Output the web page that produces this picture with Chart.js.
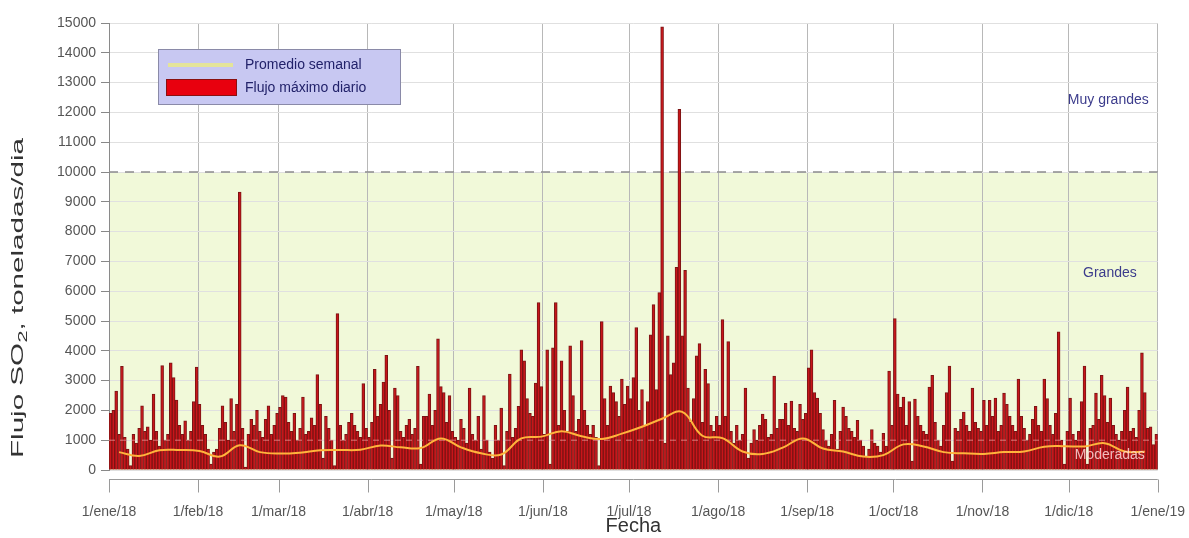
<!DOCTYPE html>
<html>
<head>
<meta charset="utf-8">
<script src="https://cdn.jsdelivr.net/npm/chart.js@4.4.1/dist/chart.umd.min.js"></script>
<style>
  html, body { margin: 0; padding: 0; background: #fff; }
  #wrap { position: relative; width: 1189px; height: 538px; }
</style>
</head>
<body>
<div id="wrap"><canvas id="flujo"></canvas></div>
<script>
// flujo maximo diario de SO2 2018 (t/dia), un arreglo por mes
const ene = [1900, 2000, 2650, 1200, 3480, 1100, 700, 150, 1200, 900, 1400, 2150, 1300, 1450, 1000, 2550, 1300, 800, 3500, 1000, 1200, 3600, 3100, 2350, 1500, 1200, 1650, 1000, 1300, 2300, 3450];
const feb = [2200, 1500, 1200, 700, 200, 600, 700, 1400, 2150, 1600, 1000, 2400, 1300, 2200, 9330, 1400, 100, 1200, 1700, 1500, 2000, 1300, 1100, 1700, 2150, 1200, 1500, 1900];
const mar = [2100, 2500, 2450, 1600, 1300, 1900, 1000, 1400, 2450, 1200, 1300, 1750, 1500, 3200, 2200, 400, 1800, 1400, 1000, 150, 5250, 1500, 1000, 1200, 1600, 1900, 1500, 1300, 1100, 2900, 1400];
const abr = [1100, 1600, 3380, 1800, 2200, 2950, 3850, 2000, 400, 2750, 2500, 1300, 1100, 1500, 1700, 1200, 1400, 3480, 200, 1800, 1800, 2550, 1500, 2000, 4400, 2800, 2600, 1600, 2500, 1300];
const may = [1100, 1000, 1700, 1400, 900, 2750, 1200, 1000, 1800, 700, 2500, 1000, 600, 400, 1500, 1000, 2080, 150, 1300, 3220, 1100, 1400, 2140, 4030, 3660, 2400, 1900, 1800, 2920, 5620, 2800];
const jun = [1200, 4030, 200, 4100, 5620, 1500, 3660, 2000, 1300, 4170, 2500, 1300, 1700, 4340, 2000, 1500, 1200, 1500, 1100, 150, 4980, 2400, 1500, 2820, 2600, 2300, 1800, 3050, 2200, 2820];
const jul = [2400, 3100, 4780, 2000, 2700, 1500, 2300, 4540, 5550, 2700, 5950, 14870, 900, 4500, 3200, 3600, 6800, 12100, 4500, 6700, 2750, 1600, 2400, 3830, 4240, 1600, 3380, 2900, 1500, 1300, 1800];
const ago = [1500, 5050, 1800, 4310, 1300, 900, 1500, 1000, 1200, 2750, 400, 900, 1360, 1000, 1500, 1880, 1700, 1100, 1200, 3150, 1400, 1700, 1700, 2240, 1500, 2310, 1400, 1300, 2200, 1700, 1900];
const sep = [3430, 4030, 2600, 2410, 1900, 1360, 1000, 800, 1200, 2340, 700, 1300, 2110, 1800, 1400, 1300, 1100, 1670, 1000, 800, 450, 700, 1360, 900, 800, 600, 1230, 800, 3320, 1500];
const oct = [5080, 2550, 2100, 2450, 1500, 2300, 300, 2380, 1800, 1500, 1300, 1200, 2780, 3180, 1600, 1000, 800, 1500, 2600, 3490, 300, 1400, 1300, 1700, 1940, 1500, 1300, 2750, 1600, 1400, 1300];
const nov = [2340, 1500, 2340, 1800, 2410, 1300, 1500, 2580, 2200, 1800, 1500, 1300, 3050, 1800, 1400, 1000, 1200, 1700, 2140, 1500, 1300, 3050, 2400, 1500, 1200, 1900, 4640, 1000, 200, 1300];
const dic = [2410, 1200, 1000, 1300, 2300, 3490, 200, 1400, 1500, 2580, 1700, 3180, 2500, 1600, 2410, 1500, 1200, 1000, 1300, 2000, 2780, 1300, 1400, 1100, 2000, 3930, 2600, 1400, 1450, 850, 1200];

// promedio semanal (una semana por valor, desde el 1 de enero)
const semanal = [600, 470, 660, 670, 640, 450, 830, 600, 550, 580, 660, 670, 680, 820, 760, 740, 1060, 760, 560, 520, 1060, 1120, 1300, 1130, 1040, 1220, 1450, 1720, 1950, 1150, 1070, 620, 540, 750, 1060, 720, 620, 450, 500, 860, 790, 600, 560, 540, 600, 620, 780, 800, 790, 900, 620, 610];

const inicioMes = [0, 31, 59, 90, 120, 151, 181, 212, 243, 273, 304, 334, 365];
const etiquetasMes = ['1/ene/18', '1/feb/18', '1/mar/18', '1/abr/18', '1/may/18', '1/jun/18', '1/jul/18',
                      '1/ago/18', '1/sep/18', '1/oct/18', '1/nov/18', '1/dic/18', '1/ene/19'];
const limites = [1000, 10000];
const zonas = ['Moderadas', 'Grandes', 'Muy grandes'];

const diario = [].concat(ene, feb, mar, abr, may, jun, jul, ago, sep, oct, nov, dic);

const FONT = "'Liberation Sans', Arial, sans-serif";

const extras = {
    id: 'extras',
    beforeDraw(chart) {
        const {ctx, chartArea: a, scales: {y}} = chart;
        let top = y.getPixelForValue(limites[1]);
        ctx.save();
        ctx.fillStyle = '#f1f9d9';
        ctx.fillRect(a.left, top, a.right - a.left, y.getPixelForValue(0) - top);
        ctx.restore();
    },
    beforeDatasetsDraw(chart) {
        const {ctx, chartArea: a, scales: {y}} = chart;
        let yy = y.getPixelForValue(limites[1]);
        ctx.save();
        ctx.strokeStyle = '#8c8c8c';
        ctx.lineWidth = 1.5;
        ctx.setLineDash([9, 7]);
        ctx.beginPath();
        ctx.moveTo(a.left, yy);
        ctx.lineTo(a.right, yy);
        ctx.stroke();
        ctx.restore();
    },
    afterDatasetDraw(chart, args) {
        if (args.index !== 1) return;
        const {ctx, chartArea: a, scales: {y}} = chart;
        let yy = y.getPixelForValue(limites[0]);
        ctx.save();
        ctx.strokeStyle = 'rgba(255, 190, 190, 0.6)';
        ctx.lineWidth = 1;
        ctx.setLineDash([6, 5]);
        ctx.beginPath();
        ctx.moveTo(a.left, yy);
        ctx.lineTo(a.right, yy);
        ctx.stroke();
        ctx.restore();
    },
    afterDraw(chart) {
        const {ctx, chartArea: a, scales: {x, y}} = chart;
        ctx.save();

        // nombres de zonas
        ctx.font = '14px ' + FONT;
        ctx.textAlign = 'right';
        ctx.textBaseline = 'middle';
        ctx.fillStyle = '#3c3c8c';
        ctx.fillText(zonas[2], a.right - 9, y.getPixelForValue(12400));
        ctx.fillText(zonas[1], a.right - 21, y.getPixelForValue(6600));
        ctx.fillStyle = 'rgba(255, 215, 215, 0.85)';
        ctx.fillText(zonas[0], a.right - 13, y.getPixelForValue(500));

        // eje x separado del area
        let ax = a.bottom + 9.5;
        ctx.strokeStyle = '#9a9a9a';
        ctx.lineWidth = 1;
        ctx.beginPath();
        ctx.moveTo(x.getPixelForValue(0), ax);
        ctx.lineTo(x.getPixelForValue(365), ax);
        for (let i = 0; i < inicioMes.length; i++) {
            let px = Math.round(x.getPixelForValue(inicioMes[i])) + 0.5;
            ctx.moveTo(px, ax);
            ctx.lineTo(px, ax + 13);
        }
        ctx.stroke();

        // leyenda
        let lx = a.left + 49, ly = a.top + 26;
        ctx.fillStyle = '#c8c8f2';
        ctx.strokeStyle = '#8a8aa8';
        ctx.fillRect(lx, ly, 242, 55);
        ctx.strokeRect(lx + 0.5, ly + 0.5, 242, 55);
        ctx.strokeStyle = '#e4e49a';
        ctx.lineWidth = 4;
        ctx.beginPath();
        ctx.moveTo(lx + 10, ly + 16);
        ctx.lineTo(lx + 75, ly + 16);
        ctx.stroke();
        ctx.fillStyle = '#e8000e';
        ctx.strokeStyle = '#8a1010';
        ctx.lineWidth = 1;
        ctx.fillRect(lx + 8, ly + 30, 71, 17);
        ctx.strokeRect(lx + 8.5, ly + 30.5, 70, 16);
        ctx.font = '14px ' + FONT;
        ctx.textAlign = 'left';
        ctx.fillStyle = '#22226a';
        ctx.fillText('Promedio semanal', lx + 87, ly + 16);
        ctx.fillText('Flujo máximo diario', lx + 87, ly + 39);

        // titulo eje y con subindice
        ctx.translate(19, 298);
        ctx.scale(1, 1.85);
        ctx.rotate(-Math.PI / 2);
        ctx.fillStyle = '#333';
        ctx.textBaseline = 'middle';
        let p1 = 'Flujo SO', p2 = '2', p3 = ', toneladas/dia';
        ctx.font = '16px ' + FONT;
        let w1 = ctx.measureText(p1).width, w3 = ctx.measureText(p3).width;
        ctx.font = '12px ' + FONT;
        let w2 = ctx.measureText(p2).width;
        let sx = -(w1 + w2 + w3) / 2;
        ctx.font = '16px ' + FONT;
        ctx.fillText(p1, sx, 0);
        ctx.fillText(p3, sx + w1 + w2, 0);
        ctx.font = '12px ' + FONT;
        ctx.fillText(p2, sx + w1, 5);

        ctx.restore();
    }
};

new Chart(document.getElementById('flujo'), {
    type: 'bar',
    data: {
        datasets: [{
            type: 'line',
            label: 'Promedio semanal',
            data: semanal.map((v, i) => ({x: i * 7 + 3.5, y: v})),
            borderColor: '#ffb43c',
            borderWidth: 2,
            pointRadius: 0,
            tension: 0.4,
            order: 1
        }, {
            label: 'Flujo máximo diario',
            data: diario.map((v, i) => ({x: i + 0.5, y: v})),
            backgroundColor: '#c8151a',
            borderColor: '#7a1414',
            borderWidth: 1,
            barPercentage: 1,
            categoryPercentage: 1,
            order: 2
        }]
    },
    options: {
        responsive: true,
        maintainAspectRatio: false,
        animation: false,
        layout: {padding: {top: 23, right: 0, left: 0, bottom: 0}},
        plugins: {
            legend: {display: false},
            tooltip: {enabled: false}
        },
        scales: {
            x: {
                type: 'linear',
                offset: false,
                min: 0,
                max: 365,
                afterBuildTicks: (scale) => { scale.ticks = inicioMes.map(v => ({value: v})); },
                afterFit: (scale) => { scale.height = 68; },
                ticks: {
                    autoSkip: false,
                    maxRotation: 0,
                    padding: 4,
                    color: '#555',
                    font: {family: FONT, size: 14},
                    callback: (v) => etiquetasMes[inicioMes.indexOf(v)]
                },
                grid: {color: '#b8b8b8', drawTicks: true, tickLength: 30, tickColor: 'rgba(0,0,0,0)', offset: false},
                border: {display: false},
                title: {
                    display: true,
                    text: 'Fecha',
                    color: '#333',
                    font: {family: FONT, size: 20},
                    padding: {top: 0, bottom: 0}
                }
            },
            y: {
                min: 0,
                max: 15000,
                afterFit: (scale) => { scale.width = 109; },
                ticks: {
                    stepSize: 1000,
                    padding: 5,
                    color: '#555',
                    font: {family: FONT, size: 14},
                    callback: (v) => String(v)
                },
                grid: {color: '#e0e0e0', tickLength: 8, tickColor: '#888'},
                border: {color: '#8a8a8a'}
            }
        }
    },
    plugins: [extras]
});
</script>
</body>
</html>
